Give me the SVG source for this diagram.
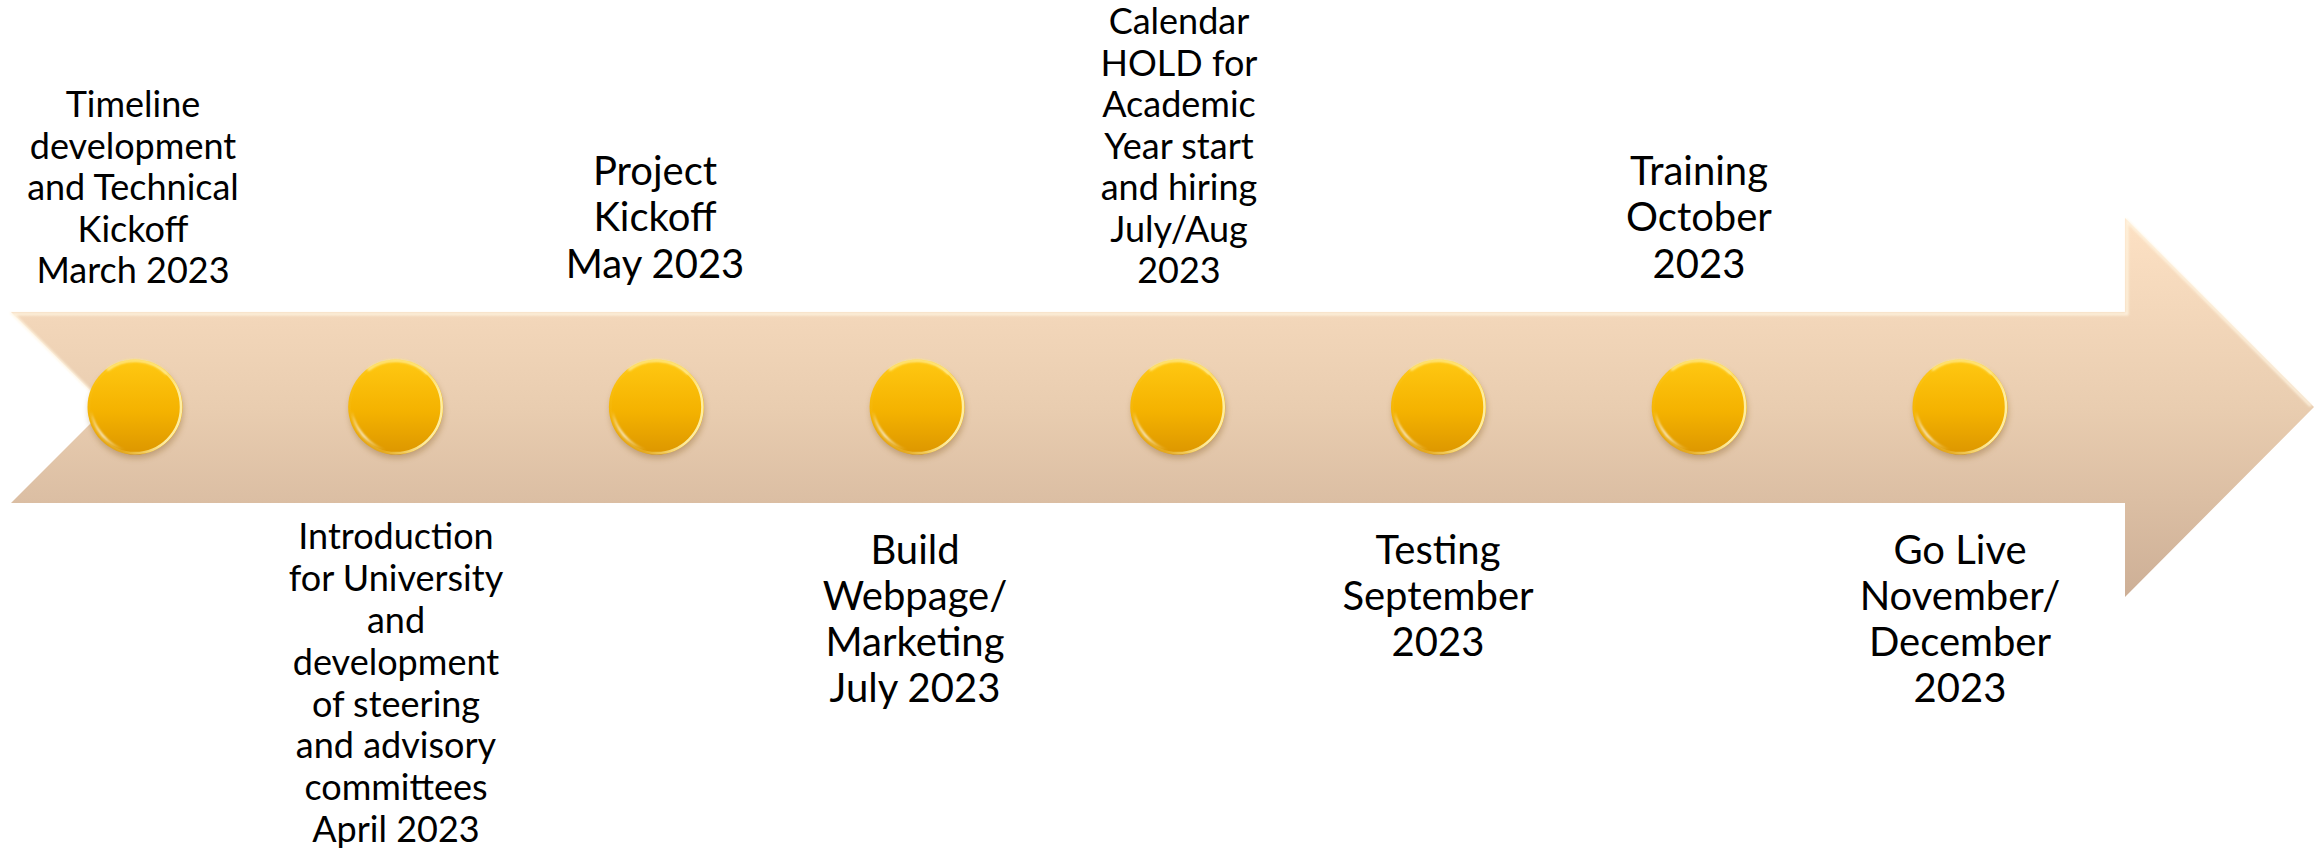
<svg xmlns="http://www.w3.org/2000/svg" width="2323" height="849" viewBox="0 0 2323 849">
  <style>
    text { font-family: "Lato", "Open Sans", "Liberation Sans", sans-serif; fill: #000; text-anchor: middle; }
    .s { font-size: 36px; }
    .l { font-size: 40px; }
  </style>
  <defs>
    <linearGradient id="arrowFill" gradientUnits="userSpaceOnUse" x1="0" y1="218" x2="0" y2="597">
      <stop offset="0" stop-color="#FDE1C4"/>
      <stop offset="0.5" stop-color="#E9CDB0"/>
      <stop offset="1" stop-color="#CDAF96"/>
    </linearGradient>
    <linearGradient id="gold" x1="0" y1="0" x2="0" y2="1">
      <stop offset="0" stop-color="#FFC812"/>
      <stop offset="0.55" stop-color="#F4B200"/>
      <stop offset="1" stop-color="#DC9600"/>
    </linearGradient>
    <linearGradient id="rim" x1="0" y1="0" x2="1" y2="0.3">
      <stop offset="0" stop-color="#FFE98A" stop-opacity="0"/>
      <stop offset="0.6" stop-color="#FFE98A" stop-opacity="0.2"/>
      <stop offset="1" stop-color="#FFF0A8" stop-opacity="0.95"/>
    </linearGradient>
    <linearGradient id="glare" x1="0" y1="0" x2="1" y2="1">
      <stop offset="0" stop-color="#FFFFFF" stop-opacity="0.6"/>
      <stop offset="0.5" stop-color="#FFFFFF" stop-opacity="0.95"/>
      <stop offset="1" stop-color="#FFF4C0" stop-opacity="0.3"/>
    </linearGradient>
    <filter id="blur4" x="-50%" y="-50%" width="200%" height="200%">
      <feGaussianBlur stdDeviation="3"/>
    </filter>
    <filter id="blur1" x="-50%" y="-50%" width="200%" height="200%">
      <feGaussianBlur stdDeviation="1"/>
    </filter>
    <g id="bead">
      <circle cx="1" cy="4" r="47" fill="#7a5010" opacity="0.35" filter="url(#blur4)"/>
      <circle r="47.5" fill="url(#gold)"/>
      <circle r="46" fill="none" stroke="url(#rim)" stroke-width="2.5"/>
      <path d="M -28 -37 A 45 45 0 0 1 32 -33" fill="none" stroke="#FFEB90" stroke-width="3" opacity="0.85" filter="url(#blur1)"/>
      <path d="M -44 4 A 44 44 0 0 0 -10 43 A 56 56 0 0 1 -44 4 Z" fill="url(#glare)" filter="url(#blur1)"/>
    </g>
  </defs>

  <g id="arrow">
    <polygon points="11,312 2125,312 2125,218 2314,407 2125,597 2125,503 11,503 107,407" fill="url(#arrowFill)"/>
    <polyline points="107,407 13,314 2127,314 2127,221 2311,406" fill="none" stroke="#FFF5E2" stroke-width="3" opacity="0.85" filter="url(#blur1)"/>
  </g>

  <g id="node-1">
    <use href="#bead" x="135" y="407"/>
    <text class="s"><tspan x="133" y="117">Timeline</tspan><tspan x="133" y="158.5">development</tspan><tspan x="133" y="200">and Technical</tspan><tspan x="133" y="241.5">Kickoff</tspan><tspan x="133" y="283">March 2023</tspan></text>
  </g>
  <g id="node-2">
    <use href="#bead" x="395.7" y="407"/>
    <text class="s"><tspan x="396" y="549">Introduction</tspan><tspan x="396" y="591">for University</tspan><tspan x="396" y="633">and</tspan><tspan x="396" y="675">development</tspan><tspan x="396" y="717">of steering</tspan><tspan x="396" y="758">and advisory</tspan><tspan x="396" y="800">committees</tspan><tspan x="396" y="842">April 2023</tspan></text>
  </g>
  <g id="node-3">
    <use href="#bead" x="656.4" y="407"/>
    <text class="l"><tspan x="655" y="185">Project</tspan><tspan x="655" y="231">Kickoff</tspan><tspan x="655" y="277.5">May 2023</tspan></text>
  </g>
  <g id="node-4">
    <use href="#bead" x="917.1" y="407"/>
    <text class="l"><tspan x="915" y="564">Build</tspan><tspan x="915" y="610">Webpage/</tspan><tspan x="915" y="656">Marketing</tspan><tspan x="915" y="702">July 2023</tspan></text>
  </g>
  <g id="node-5">
    <use href="#bead" x="1177.8" y="407"/>
    <text class="s"><tspan x="1179" y="34">Calendar</tspan><tspan x="1179" y="75.5">HOLD for</tspan><tspan x="1179" y="117">Academic</tspan><tspan x="1179" y="158.5">Year start</tspan><tspan x="1179" y="200">and hiring</tspan><tspan x="1179" y="241.5">July/Aug</tspan><tspan x="1179" y="283">2023</tspan></text>
  </g>
  <g id="node-6">
    <use href="#bead" x="1438.5" y="407"/>
    <text class="l"><tspan x="1438" y="564">Testing</tspan><tspan x="1438" y="610">September</tspan><tspan x="1438" y="656">2023</tspan></text>
  </g>
  <g id="node-7">
    <use href="#bead" x="1699.2" y="407"/>
    <text class="l"><tspan x="1699" y="185">Training</tspan><tspan x="1699" y="231">October</tspan><tspan x="1699" y="277.5">2023</tspan></text>
  </g>
  <g id="node-8">
    <use href="#bead" x="1960" y="407"/>
    <text class="l"><tspan x="1960" y="564">Go Live</tspan><tspan x="1960" y="610">November/</tspan><tspan x="1960" y="656">December</tspan><tspan x="1960" y="702">2023</tspan></text>
  </g>
  <g id="connectors"></g>
</svg>
